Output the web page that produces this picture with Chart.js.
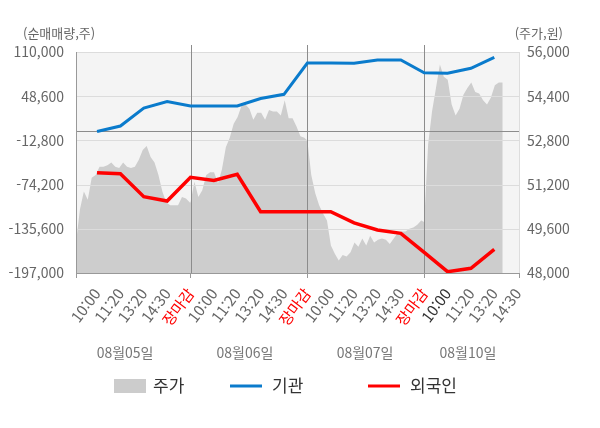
<!DOCTYPE html>
<html lang="ko">
<head>
<meta charset="utf-8">
<title>순매매량 / 주가</title>
<script src="https://cdn.jsdelivr.net/npm/chart.js@4.4.1/dist/chart.umd.min.js"></script>
<style>
  html, body { margin: 0; padding: 0; background: #fff; }
  #wrap { width: 600px; height: 428px; }
</style>
</head>
<body>
<div id="wrap"><canvas id="chart" width="600" height="428"></canvas></div>
<script>
// 일자 / 시간 라벨
const days = ['08월05일', '08월06일', '08월07일', '08월10일'];
const timeLabels = ['10:00', '11:20', '13:20', '14:30', '장마감'];

// 주가 (원) - 하루 단위
const price0805 = [49100, 50300, 50950, 50650, 51450, 51550, 51850, 51850, 51900, 52000,
                   51850, 51800, 52000, 51850, 51800, 51850, 52100, 52450, 52600, 52200,
                   52000, 51550, 50950, 50550, 50450, 50450, 50450, 50750, 50700, 50550];
const price0806 = [50550, 51300, 50750, 51000, 51550, 51650, 51650, 51250, 51750, 52550,
                   52900, 53400, 53650, 54050, 54100, 53950, 53550, 53800, 53800, 53550,
                   53900, 53850, 53850, 53700, 54250, 53600, 53600, 53300, 52950, 52900];
const price0807 = [52800, 51550, 50900, 50450, 50150, 49900, 49000, 48700, 48450, 48650,
                   48600, 48750, 49100, 48950, 49250, 49000, 49350, 49100, 49200, 49250,
                   49200, 49050, 49250, 49450, 49500, 49500, 49600, 49650, 49750, 49900];
const price0810 = [49850, 52650, 53850, 54700, 55550, 55100, 55000, 54100, 53700, 53950,
                   54450, 54700, 54900, 54550, 54500, 54250, 54100, 54350, 54800, 54900, 54900];

// 순매매량 (주) - 시간 구간별 누적
const institution = [-500, 7200, 32200, 41200, 35000, 35000, 35000, 45400, 51200,
                     94700, 94700, 94300, 98900, 98900, 81200, 80400, 87300, 102600];
const foreign = [-57700, -59100, -91000, -97000, -64100, -68500, -59800, -111900, -111900,
                 -111900, -111900, -127300, -137300, -141900, -168200, -195200, -190500, -164100];

// 축 눈금
const leftTicks = [-197000, -135600, -74200, -12800, 48600, 110000];
const rightTicks = [48000, 49600, 51200, 52800, 54400, 56000];

const FONT = "'Noto Sans CJK KR', 'Noto Sans', sans-serif";
Chart.defaults.font.family = FONT;

// 가격 점: 하루 = x축 5칸
const PRICE_STEP = 0.168;
function dayPoints(values, start) {
    return values.map((v, i) => ({ x: start + i * PRICE_STEP, y: v }));
}
const pricePoints = [].concat(
    dayPoints(price0805, 0.1),
    dayPoints(price0806, 5),
    dayPoints(price0807, 10),
    dayPoints(price0810, 15)
);
const instPoints = institution.map((v, i) => ({ x: i + 1, y: v }));
const forePoints = foreign.map((v, i) => ({ x: i + 1, y: v }));

function fmt(n) {
    return n.toString().replace(/(\d)(?=(\d{3})+(?!\d))/g, '$1,');
}

// 배경, 격자, 범례 등
const decor = {
    id: 'decor',
    beforeDraw(chart) {
        const { ctx, chartArea: a } = chart;
        ctx.save();
        ctx.fillStyle = '#f4f4f4';
        ctx.fillRect(a.left, a.top, a.right - a.left, a.bottom - a.top);
        ctx.restore();
    },
    afterDatasetDraw(chart, args) {
        if (args.index !== 0) return;
        const { ctx, chartArea: a } = chart;
        const y = chart.scales.y;
        const x = chart.scales.x;
        ctx.save();
        ctx.lineWidth = 1;
        ctx.strokeStyle = '#dcdcdc';
        leftTicks.forEach(t => {
            const py = Math.round(y.getPixelForValue(t)) + 0.5;
            ctx.beginPath();
            ctx.moveTo(a.left, py);
            ctx.lineTo(a.right, py);
            ctx.stroke();
        });
        // 0 기준선
        ctx.strokeStyle = '#8c8c8c';
        const zy = Math.round(y.getPixelForValue(0)) + 0.5;
        ctx.beginPath();
        ctx.moveTo(a.left, zy);
        ctx.lineTo(a.right, zy);
        ctx.stroke();
        // 일자 구분선
        [5, 10, 15].forEach(v => {
            const px = Math.round(x.getPixelForValue(v)) + 0.5;
            ctx.beginPath();
            ctx.moveTo(px, a.top - 7);
            ctx.lineTo(px, a.bottom);
            ctx.stroke();
        });
        ctx.restore();
    },
    afterDraw(chart) {
        const { ctx, chartArea: a } = chart;
        const x = chart.scales.x;
        ctx.save();
        ctx.lineWidth = 1;
        // 축선
        ctx.strokeStyle = '#dddddd';
        ctx.beginPath();
        ctx.moveTo(a.right - 0.5, a.top);
        ctx.lineTo(a.right - 0.5, a.bottom);
        ctx.stroke();
        ctx.strokeStyle = '#999999';
        ctx.beginPath();
        ctx.moveTo(a.left + 0.5, a.top);
        ctx.lineTo(a.left + 0.5, a.bottom + 0.5);
        ctx.lineTo(a.right, a.bottom + 0.5);
        ctx.stroke();
        // 아래쪽 눈금
        [a.left + 0.5, x.getPixelForValue(5), x.getPixelForValue(10), x.getPixelForValue(15), a.right - 0.5].forEach(px => {
            px = Math.round(px - 0.5) + 0.5;
            ctx.beginPath();
            ctx.moveTo(px, a.bottom);
            ctx.lineTo(px, a.bottom + 5);
            ctx.stroke();
        });

        // 축 제목
        ctx.font = '13px ' + FONT;
        ctx.fillStyle = '#666';
        ctx.textBaseline = 'middle';
        ctx.textAlign = 'left';
        ctx.fillText('(순매매량,주)', 23, 33);
        ctx.textAlign = 'right';
        ctx.fillText('(주가,원)', 563, 33);

        // 일자 라벨
        ctx.font = '14px ' + FONT;
        ctx.fillStyle = '#777';
        ctx.textAlign = 'center';
        [2.2, 7.33, 12.47, 16.87].forEach((v, i) => {
            ctx.fillText(days[i], x.getPixelForValue(v), 353);
        });

        // 범례
        const ly = 386;
        ctx.font = '17px ' + FONT;
        ctx.textAlign = 'left';
        ctx.fillStyle = '#cccccc';
        ctx.fillRect(114, ly - 7, 32, 14);
        ctx.fillStyle = '#333';
        ctx.fillText('주가', 153, ly);
        ctx.lineWidth = 3;
        ctx.strokeStyle = '#0a7bcc';
        ctx.beginPath(); ctx.moveTo(230, ly); ctx.lineTo(262, ly); ctx.stroke();
        ctx.fillText('기관', 272, ly);
        ctx.strokeStyle = '#ff0000';
        ctx.beginPath(); ctx.moveTo(368, ly); ctx.lineTo(400, ly); ctx.stroke();
        ctx.fillText('외국인', 410, ly);
        ctx.restore();
    }
};

new Chart(document.getElementById('chart'), {
    type: 'line',
    data: {
        datasets: [
            {
                label: '주가',
                data: pricePoints,
                yAxisID: 'y2',
                order: 3,
                borderWidth: 0,
                borderColor: 'rgba(0,0,0,0)',
                backgroundColor: '#cdcdcd',
                fill: 'start',
                pointRadius: 0,
                tension: 0
            },
            {
                label: '기관',
                data: instPoints,
                yAxisID: 'y',
                order: 2,
                borderColor: '#0a7bcc',
                borderWidth: 3,
                pointRadius: 0,
                fill: false,
                tension: 0
            },
            {
                label: '외국인',
                data: forePoints,
                yAxisID: 'y',
                order: 1,
                borderColor: '#ff0000',
                borderWidth: 3.5,
                pointRadius: 0,
                fill: false,
                tension: 0
            }
        ]
    },
    options: {
        responsive: false,
        animation: false,
        layout: { padding: { top: 52, left: 0, right: 0, bottom: 0 } },
        plugins: {
            legend: { display: false },
            tooltip: { enabled: false }
        },
        scales: {
            x: {
                type: 'linear',
                min: 0.1,
                max: 19.1,
                grid: { display: false, drawTicks: false },
                border: { display: false },
                afterBuildTicks: scale => {
                    const ticks = [];
                    for (let v = 1; v <= 19; v++) ticks.push({ value: v });
                    scale.ticks = ticks;
                },
                afterFit: scale => { scale.height = 155; },
                ticks: {
                    autoSkip: false,
                    minRotation: 53,
                    maxRotation: 53,
                    padding: 12,
                    font: { size: 15 },
                    color: ctx => {
                        const v = ctx.tick ? ctx.tick.value : 0;
                        if (v % 5 === 0) return '#ff0000';
                        if (v === 16) return '#333';
                        return '#666';
                    },
                    callback: v => timeLabels[(v - 1) % 5]
                }
            },
            y: {
                position: 'left',
                min: -197000,
                max: 110000,
                grid: { display: false, drawTicks: false },
                border: { display: false },
                afterBuildTicks: scale => { scale.ticks = leftTicks.map(v => ({ value: v })); },
                afterFit: scale => { scale.width = 76; },
                ticks: {
                    padding: 12,
                    color: '#666',
                    font: { size: 14 },
                    callback: v => fmt(v)
                }
            },
            y2: {
                position: 'right',
                min: 48000,
                max: 56000,
                grid: { display: false, drawTicks: false },
                border: { display: false },
                afterBuildTicks: scale => { scale.ticks = rightTicks.map(v => ({ value: v })); },
                afterFit: scale => { scale.width = 80; },
                ticks: {
                    padding: 7,
                    color: '#666',
                    font: { size: 14 },
                    callback: v => fmt(v)
                }
            }
        }
    },
    plugins: [decor]
});
</script>
</body>
</html>
